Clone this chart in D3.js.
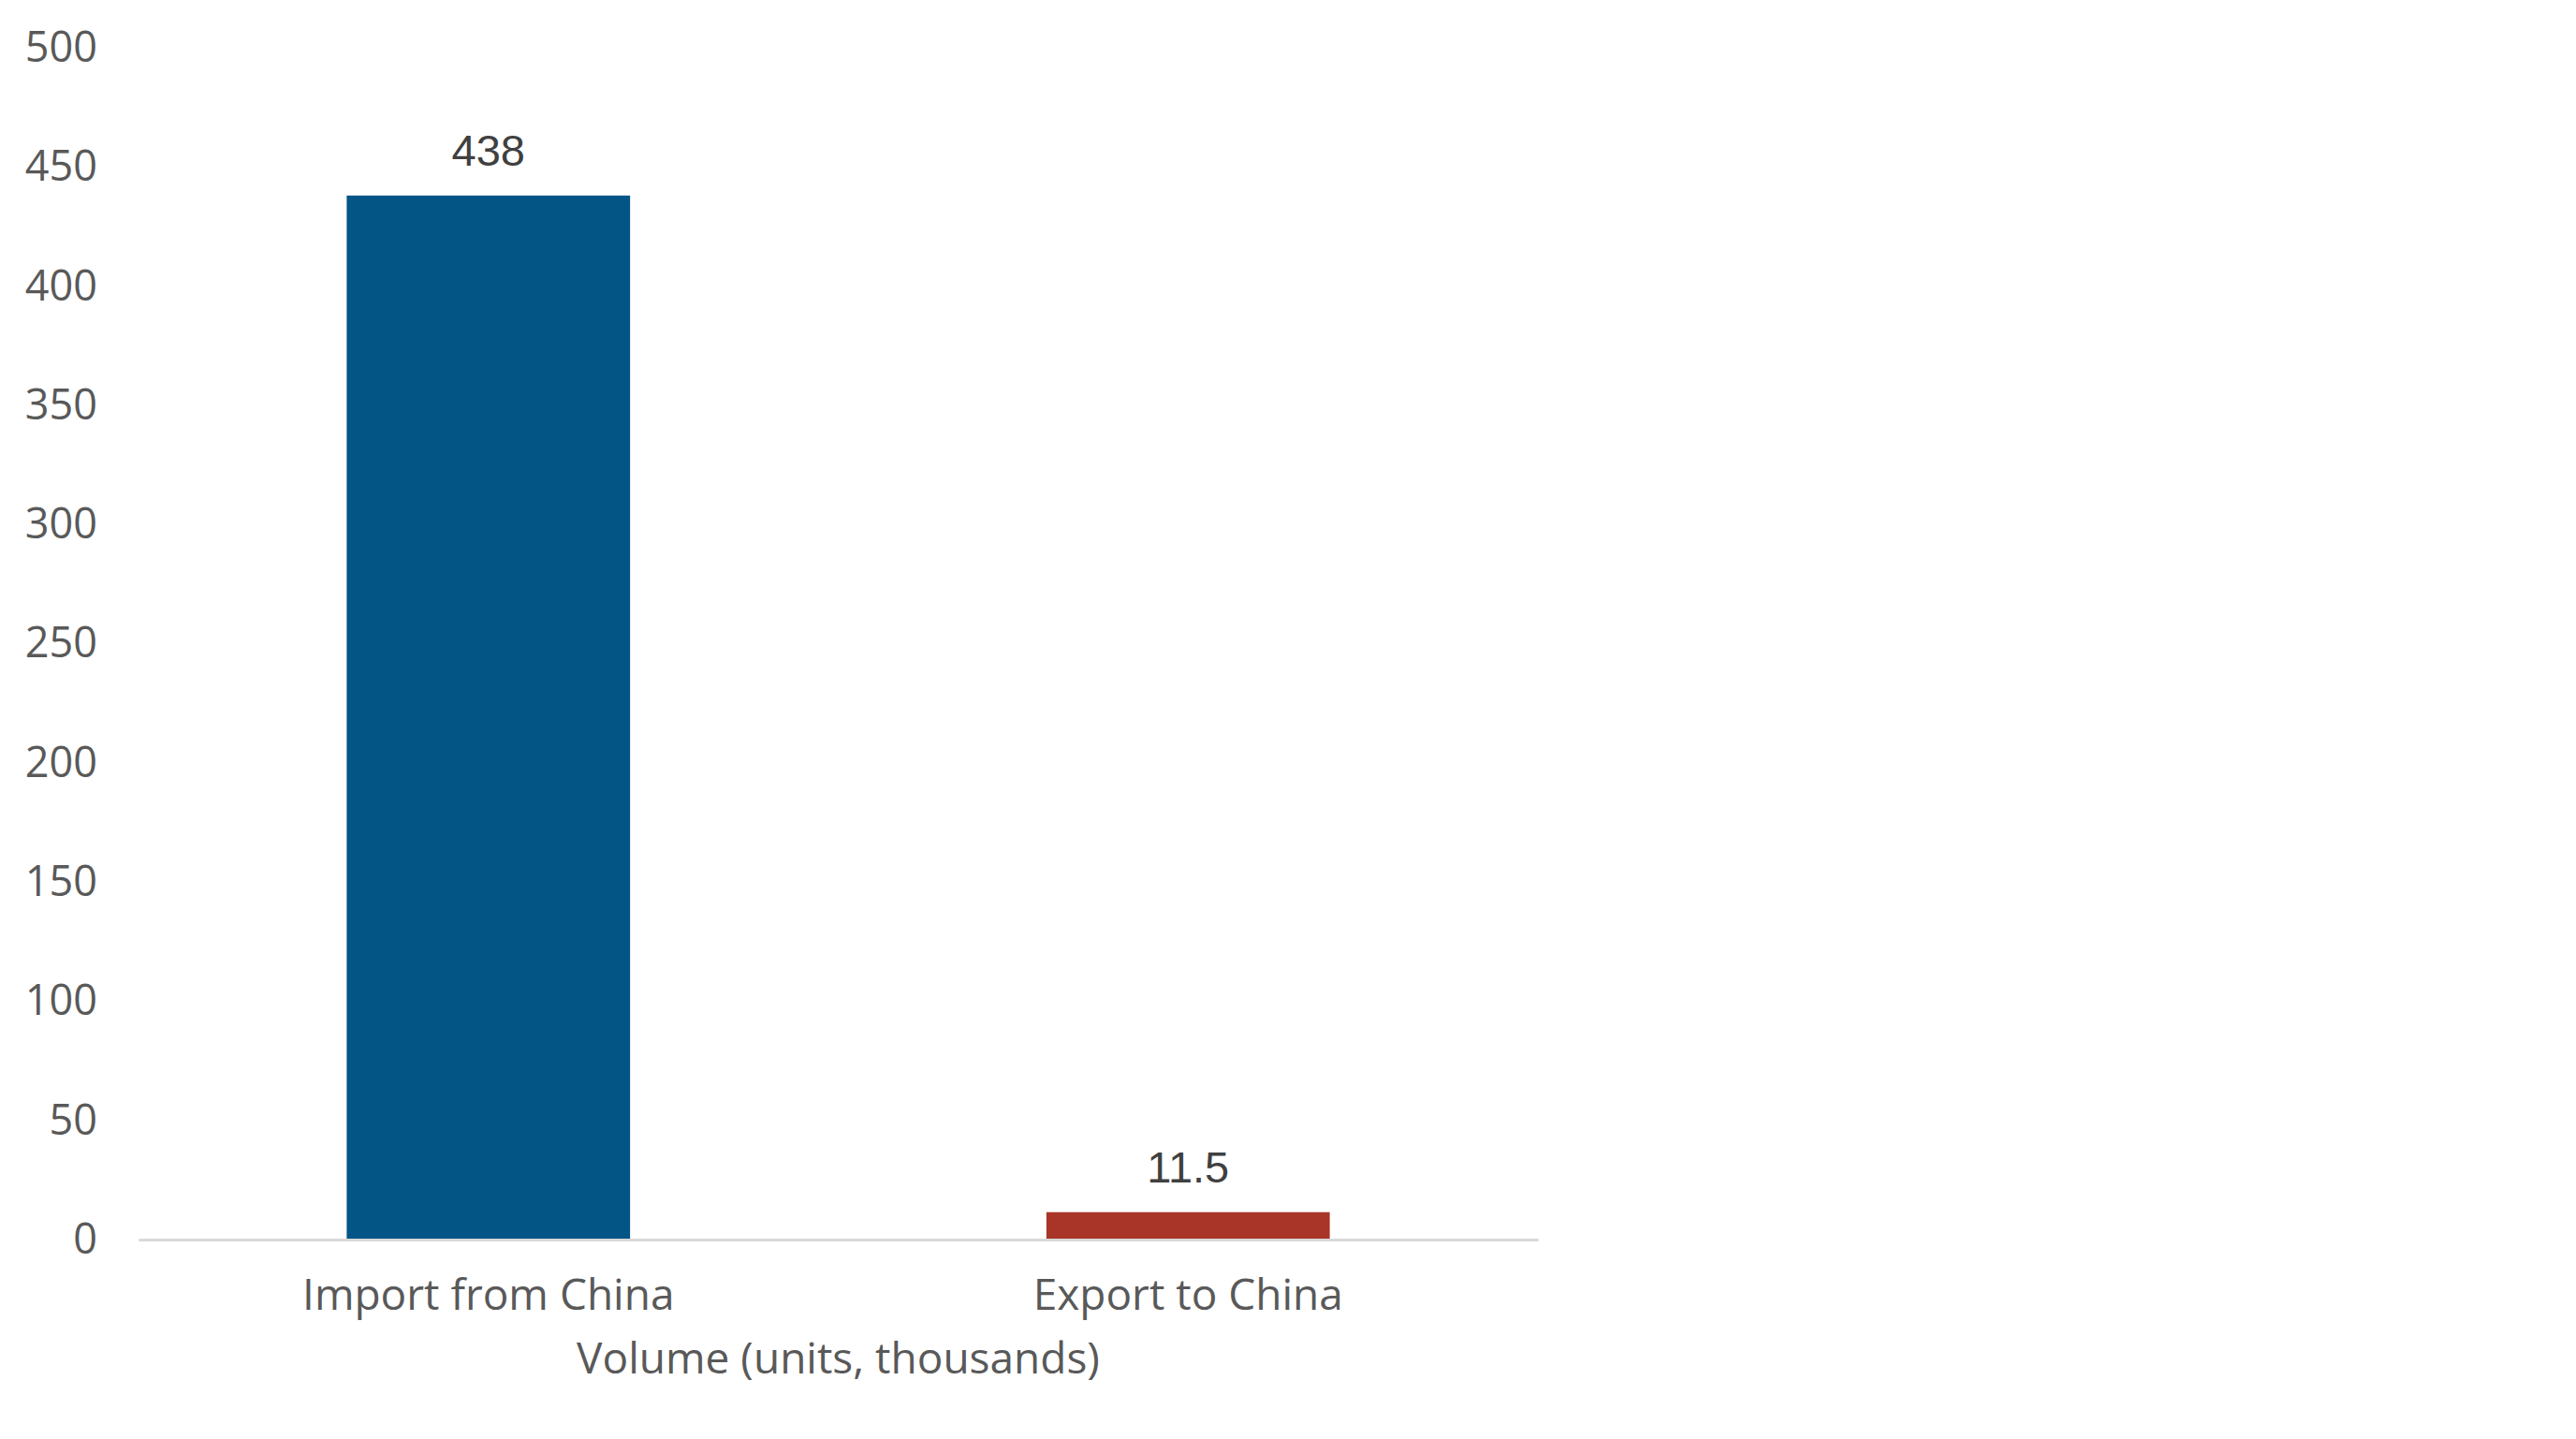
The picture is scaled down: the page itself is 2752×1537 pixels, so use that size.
<!DOCTYPE html>
<html>
<head>
<meta charset="utf-8">
<script src="https://cdn.jsdelivr.net/npm/d3@7"></script>
<style>
  html, body { margin: 0; padding: 0; background: #ffffff; }
  svg { display: block; }
</style>
</head>
<body>
<div id="chart"></div>
<script>
const categories = ["Import from China", "Export to China"];
const values = [438, 11.5];
const valueLabels = ["438", "11.5"];
const barColors = ["#035586", "#A83527"];
const yTicks = [0, 50, 100, 150, 200, 250, 300, 350, 400, 450, 500];
const axisTitle = "Volume (units, thousands)";

const W = 2752, H = 1537;
const plot = { left: 148, right: 1643, top: 51, bottom: 1324 };

const svg = d3.select("#chart").append("svg")
  .attr("width", W).attr("height", H)
  .attr("viewBox", `0 0 ${W} ${H}`);

svg.append("rect").attr("width", W).attr("height", H).attr("fill", "#ffffff");

const x = d3.scaleBand()
  .domain(categories)
  .range([plot.left, plot.right])
  .paddingInner(0.595)
  .paddingOuter(0.2975);

const y = d3.scaleLinear()
  .domain([0, 500])
  .range([plot.bottom, plot.top]);

const textFont = "'Open Sans', 'Noto Sans', sans-serif";

// Y axis (labels only)
const yAxis = svg.append("g")
  .attr("transform", `translate(${plot.left},0)`)
  .call(d3.axisLeft(y).tickValues(yTicks).tickSize(0).tickPadding(44).tickFormat(d3.format("d")));
yAxis.select(".domain").remove();
yAxis.selectAll("text")
  .attr("font-family", textFont)
  .attr("font-size", 45)
  .attr("fill", "#595959");

// Bars
svg.append("g").selectAll("rect")
  .data(categories)
  .join("rect")
  .attr("x", d => x(d))
  .attr("width", x.bandwidth())
  .attr("y", (d, i) => y(values[i]))
  .attr("height", (d, i) => y(0) - y(values[i]))
  .attr("fill", (d, i) => barColors[i]);

// X axis baseline + category labels
const xAxis = svg.append("g")
  .attr("transform", `translate(0,${plot.bottom})`)
  .call(d3.axisBottom(x).tickSize(0).tickPadding(42));
xAxis.select(".domain")
  .attr("stroke", "#D9D9D9")
  .attr("stroke-width", 3);
xAxis.selectAll("text")
  .attr("font-family", textFont)
  .attr("font-size", 46)
  .attr("fill", "#595959");

// Value labels
svg.append("g").selectAll("text")
  .data(categories)
  .join("text")
  .attr("x", d => x(d) + x.bandwidth() / 2)
  .attr("y", (d, i) => y(values[i]) - 32)
  .attr("text-anchor", "middle")
  .attr("font-family", "'Liberation Sans', Arial, sans-serif")
  .attr("font-size", 47)
  .attr("fill", "#404040")
  .text((d, i) => valueLabels[i]);

// Axis title
svg.append("text")
  .attr("x", (plot.left + plot.right) / 2)
  .attr("y", 1467)
  .attr("text-anchor", "middle")
  .attr("font-family", textFont)
  .attr("font-size", 46)
  .attr("fill", "#595959")
  .text(axisTitle);
</script>
</body>
</html>
